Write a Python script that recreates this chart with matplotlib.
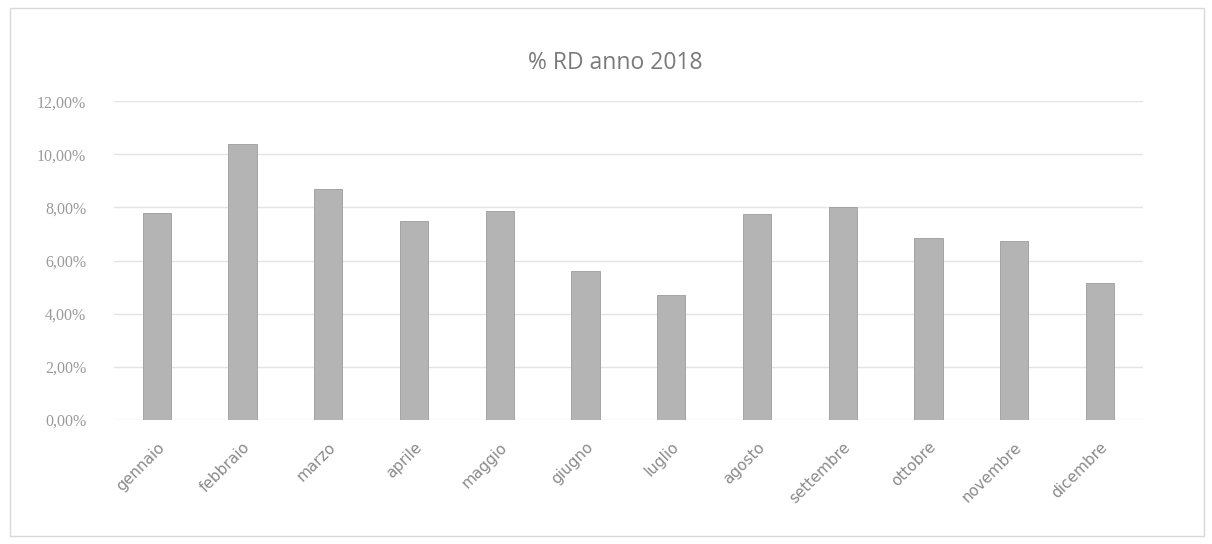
import matplotlib
matplotlib.use("Agg")
import matplotlib.pyplot as plt
from matplotlib.patches import Rectangle
from matplotlib.ticker import FuncFormatter, MultipleLocator

months = ["gennaio", "febbraio", "marzo", "aprile", "maggio", "giugno",
          "luglio", "agosto", "settembre", "ottobre", "novembre", "dicembre"]
rd_pct = [7.8, 10.4, 8.7, 7.5, 7.85, 5.6, 4.7, 7.75, 8.0, 6.85, 6.75, 5.15]
title = "% RD anno 2018"

fig = plt.figure(figsize=(12.12, 5.44), dpi=100)
fig.patch.set_facecolor("white")
fig.patches.append(Rectangle((0.008, 0.015), 0.985, 0.97, transform=fig.transFigure,
                             fill=False, edgecolor="#d8d8d8", linewidth=1.0))

ax = fig.add_axes([0.094, 0.228, 0.849, 0.586])
x = list(range(len(months)))
ax.bar(x, rd_pct, width=0.33, color="#b4b4b4", edgecolor="#9c9c9c", linewidth=0.6, zorder=3)

ax.set_xlim(-0.5, len(months) - 0.5)
ax.set_ylim(0, 12)
ax.yaxis.set_major_locator(MultipleLocator(2))
ax.yaxis.set_major_formatter(FuncFormatter(lambda v, p: f"{v:.2f}%".replace(".", ",")))
ax.grid(axis="y", color="#e4e4e4", linewidth=1.0, zorder=0)
for s in ax.spines.values():
    s.set_visible(False)
ax.tick_params(axis="both", length=0)
ax.tick_params(axis="y", pad=20, labelsize=11.5, labelcolor="#9a9a9a",
               labelfontfamily="Liberation Serif")
ax.set_xticks(x)
ax.set_xticklabels(months, rotation=45, ha="right", rotation_mode="anchor",
                   fontsize=11, color="#8a8a8a")
ax.tick_params(axis="x", pad=14)

fig.text(0.508, 0.885, title, ha="center", va="center", fontsize=16.5,
         color="#7a7a7a", family="Open Sans")

fig.savefig("out.png", dpi=100, facecolor="white")
